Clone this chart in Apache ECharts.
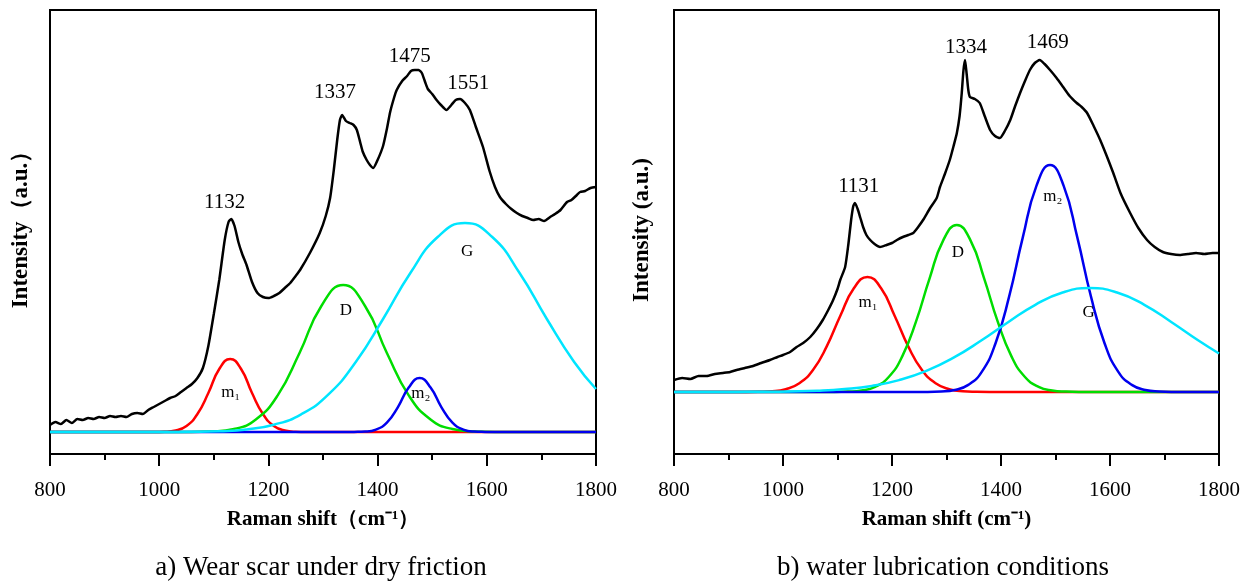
<!DOCTYPE html>
<html>
<head>
<meta charset="utf-8">
<script src="https://cdn.jsdelivr.net/npm/echarts@6/dist/echarts.min.js"></script>
<style>
  html, body { margin: 0; padding: 0; background: #fff; }
  #chart { width: 1253px; height: 584px; }
</style>
</head>
<body>
<div id="chart"></div>
<script>
  // panel a) dry friction, measured spectrum and fitted bands
  const dryMeasured = [
    [800, 29], [810, 32], [820, 30], [830, 34], [840, 31], [850, 35], [860, 34], [870, 36], [880, 35],
    [890, 37], [900, 36], [910, 38], [920, 37], [930, 38], [940, 37], [950, 40], [960, 41], [970, 40],
    [980, 44], [990, 47], [1000, 50], [1010, 53], [1020, 56], [1030, 58], [1040, 62], [1050, 66],
    [1060, 70], [1070, 76], [1080, 86], [1090, 108], [1100, 140], [1110, 174], [1120, 214], [1127, 232],
    [1132, 235], [1138, 228], [1145, 212], [1152, 200], [1160, 189], [1170, 172], [1180, 161], [1190, 157],
    [1200, 156], [1210, 158], [1220, 161], [1230, 166], [1240, 171], [1250, 178], [1258, 184], [1276, 201],
    [1294, 221], [1305, 238], [1313, 256], [1320, 285], [1326, 314], [1331, 334], [1335, 339], [1342, 333],
    [1349, 331], [1356, 329], [1362, 324], [1368, 312], [1373, 302], [1380, 294], [1386, 289], [1392, 286],
    [1400, 294], [1410, 308], [1417, 325], [1423, 342], [1430, 356], [1435, 364], [1445, 373], [1454, 378],
    [1461, 383], [1468, 384], [1475, 384], [1481, 381], [1487, 372], [1492, 365], [1500, 360], [1508, 354],
    [1516, 349], [1526, 344], [1535, 349], [1543, 354], [1551, 355], [1560, 351], [1569, 344], [1580, 327],
    [1593, 307], [1605, 283], [1615, 267], [1624, 257], [1635, 250], [1645, 245], [1655, 241], [1665, 238],
    [1675, 236], [1685, 234], [1695, 235], [1705, 233], [1716, 237], [1725, 240], [1735, 244], [1747, 252],
    [1755, 254], [1765, 259], [1771, 262], [1780, 263], [1790, 266], [1800, 267]
  ];
  const dryM1 = [
    [800, 22], [990, 22.1], [1010, 22.3], [1030, 23.5], [1050, 28], [1070, 40], [1090, 61], [1110, 85], [1130, 95],
    [1150, 85], [1170, 61], [1190, 40], [1210, 28], [1230, 23.5], [1250, 22.3], [1270, 22.1], [1800, 22]
  ];
  const dryD = [
    [800, 22], [1057, 22.1], [1097, 22.6], [1137, 25], [1177, 34.5], [1217, 58.6], [1257, 101], [1297, 148],
    [1337, 169], [1377, 148], [1417, 101], [1457, 58.6], [1497, 34.5], [1537, 25], [1577, 22.6],
    [1617, 22.1], [1800, 22]
  ];
  const dryM2 = [
    [800, 22], [1337, 22], [1357, 22.1], [1377, 22.4], [1397, 24.4], [1417, 31.3], [1437, 46.7], [1457, 66.4], [1477, 76],
    [1497, 66.4], [1517, 46.7], [1537, 31.3], [1557, 24.4], [1577, 22.4], [1597, 22.1], [1617, 22], [1800, 22]
  ];
  const dryG = [
    [800, 22], [1010, 22.05], [1060, 22.2], [1110, 22.8], [1160, 24.6], [1210, 29.3], [1260, 39.7], [1310, 59.6],
    [1360, 92], [1410, 135], [1460, 181], [1510, 217], [1560, 231], [1610, 217], [1660, 181], [1710, 135],
    [1760, 92], [1800, 65]
  ];

  // panel b) water lubrication
  const wetMeasured = [
    [800, 74], [815, 76], [830, 75], [845, 78], [860, 78], [875, 80], [890, 81], [903, 82], [915, 84],
    [930, 86], [945, 88], [960, 91], [976, 94], [990, 97], [1000, 99], [1013, 102], [1025, 107], [1037, 111],
    [1050, 117], [1062, 125], [1073, 134], [1083, 144], [1092, 154], [1100, 165], [1105, 174], [1114, 187],
    [1120, 210], [1125, 234], [1129, 248], [1132, 251], [1137, 245], [1142, 236], [1147, 227], [1153, 219],
    [1160, 214], [1168, 210], [1178, 207], [1190, 209], [1200, 211], [1209, 214], [1220, 217], [1230, 219],
    [1239, 221], [1248, 227], [1257, 234], [1270, 246], [1282, 256], [1288, 267], [1297, 280], [1306, 294],
    [1313, 308], [1319, 321], [1324, 338], [1328, 361], [1331, 383], [1334, 394], [1337, 380], [1340, 364],
    [1343, 357], [1352, 355], [1361, 351], [1370, 338], [1380, 324], [1389, 318], [1398, 316], [1407, 323],
    [1417, 334], [1426, 348], [1435, 361], [1444, 373], [1453, 384], [1462, 391], [1471, 394], [1480, 390],
    [1490, 384], [1502, 376], [1514, 367], [1526, 358], [1539, 351], [1548, 347], [1558, 341], [1570, 328],
    [1582, 314], [1594, 298], [1606, 281], [1620, 260], [1637, 241], [1652, 226], [1668, 214], [1682, 207],
    [1697, 202], [1712, 200], [1728, 199], [1743, 200], [1758, 201], [1773, 200], [1788, 201], [1800, 201]
  ];
  const wetM1 = [
    [800, 62], [930, 62.05], [955, 62.2], [980, 62.7], [1005, 64.8], [1030, 70.7], [1055, 84], [1080, 107.4], [1105, 138],
    [1130, 165.7], [1155, 177], [1180, 165.7], [1205, 138], [1230, 107.4], [1255, 84], [1280, 70.7],
    [1305, 64.8], [1330, 62.7], [1355, 62.2], [1380, 62.05], [1800, 62]
  ];
  const wetD = [
    [800, 62], [1094, 62.1], [1119, 62.4], [1144, 63.5], [1169, 67.2], [1194, 77], [1219, 97.9], [1244, 132.3],
    [1269, 175.7], [1294, 213.6], [1319, 229], [1344, 213.6], [1369, 175.7], [1394, 132.3], [1419, 97.9],
    [1444, 77], [1469, 67.2], [1494, 63.5], [1519, 62.4], [1544, 62.1], [1800, 62]
  ];
  const wetM2 = [
    [800, 62], [1265, 62.1], [1290, 62.5], [1315, 64], [1340, 69.1], [1365, 82.4], [1390, 110.8], [1415, 157.6],
    [1440, 216.6], [1465, 268.1], [1490, 289], [1515, 268.1], [1540, 216.6], [1565, 157.6], [1590, 110.8],
    [1615, 82.4], [1640, 69.1], [1665, 64], [1690, 62.5], [1715, 62.1], [1800, 62]
  ];
  const wetG = [
    [800, 62], [863, 62], [913, 62.1], [963, 62.2], [1013, 62.5], [1063, 63.2], [1113, 64.9], [1163, 68.1],
    [1213, 73.9], [1263, 83.1], [1313, 96.3], [1363, 113.2], [1413, 131.8], [1463, 149.2], [1513, 161.5],
    [1563, 166], [1613, 161.5], [1663, 149.2], [1713, 131.8], [1763, 113.2], [1800, 100.5]
  ];

  // annotation texts [x, y, text]
  const dryPeakLabels = [[1120, 252, '1132'], [1322, 362, '1337'], [1459, 398, '1475'], [1566, 371, '1551']];
  const dryBandLabels = [[1131, 61, 'm₁'], [1342, 143, 'D'], [1479, 60, 'm₂'], [1564, 202, 'G']];
  const wetPeakLabels = [[1139, 268, '1131'], [1336, 407, '1334'], [1486, 412, '1469']];
  const wetBandLabels = [[1156, 151, 'm₁'], [1321, 201, 'D'], [1495, 257, 'm₂'], [1561, 141, 'G']];

  const xTicks = { min: 800, max: 1800, interval: 200 };
  const serif = '"Liberation Serif", "Times New Roman", serif';

  const chart = echarts.init(document.getElementById('chart'));

  function xAxisFor(gridIndex, name) {
    return {
      type: 'value',
      gridIndex,
      min: xTicks.min,
      max: xTicks.max,
      interval: xTicks.interval,
      name,
      nameLocation: 'middle',
      nameGap: 55,
      nameTextStyle: { color: '#000', fontSize: 21, fontWeight: 'bold', fontFamily: serif },
      axisLine: { onZero: false, lineStyle: { color: '#000', width: 2 } },
      axisTick: { length: 12, lineStyle: { color: '#000', width: 2 } },
      minorTick: { show: true, splitNumber: 2, length: 6, lineStyle: { color: '#000', width: 2 } },
      splitLine: { show: false },
      axisLabel: { color: '#000', fontSize: 21, fontFamily: serif, margin: 26, formatter: (v) => String(v) },
    };
  }

  function yAxisFor(gridIndex, name, gap, shift) {
    return {
      type: 'value',
      gridIndex,
      min: 0,
      max: 444,
      name,
      nameLocation: 'middle',
      nameGap: gap,
      nameTextStyle: { color: '#000', fontSize: 23, fontWeight: 'bold', fontFamily: serif, padding: [0, 0, 0, shift] },
      axisLine: { show: true, onZero: false, lineStyle: { color: '#000', width: 2 } },
      axisTick: { show: false },
      axisLabel: { show: false },
      splitLine: { show: false },
    };
  }

  function curve(idx, data, color, smooth) {
    return {
      type: 'line',
      xAxisIndex: idx,
      yAxisIndex: idx,
      data,
      smooth,
      symbol: 'none',
      lineStyle: { color, width: 2.5 },
      silent: true,
    };
  }

  function labels(idx, data, size) {
    return {
      type: 'scatter',
      xAxisIndex: idx,
      yAxisIndex: idx,
      data,
      symbolSize: 1,
      itemStyle: { color: 'transparent', opacity: 1 },
      label: {
        show: true,
        position: 'inside',
        formatter: (p) => p.data[2],
        color: '#000',
        textBorderWidth: 0,
        textBorderColor: 'transparent',
        fontSize: size,
        fontFamily: serif,
      },
      z: 10,
    };
  }

  chart.setOption({
    animation: false,
    textStyle: { fontFamily: serif },
    title: [
      { text: 'a) Wear scar under dry friction', left: 316, top: 549, textAlign: 'center',
        textStyle: { color: '#000', fontSize: 27, fontWeight: 'normal', fontFamily: serif } },
      { text: 'b) water lubrication conditions', left: 938, top: 549, textAlign: 'center',
        textStyle: { color: '#000', fontSize: 27, fontWeight: 'normal', fontFamily: serif } },
    ],
    grid: [
      { left: 50, top: 10, width: 546, height: 444, show: true, borderColor: '#000', borderWidth: 2, backgroundColor: 'transparent' },
      { left: 674, top: 10, width: 545, height: 444, show: true, borderColor: '#000', borderWidth: 2, backgroundColor: 'transparent' },
    ],
    xAxis: [
      xAxisFor(0, 'Raman shift（cm⁻¹）'),
      xAxisFor(1, 'Raman shift (cm⁻¹)'),
    ],
    yAxis: [
      yAxisFor(0, 'Intensity（a.u.）', 17, 16),
      yAxisFor(1, 'Intensity (a.u.)', 20, 4),
    ],
    series: [
      curve(0, dryMeasured, '#000', 0.2),
      curve(0, dryM1, '#ff0000', 0.5),
      curve(0, dryD, '#00dd00', 0.5),
      curve(0, dryM2, '#0000ee', 0.5),
      curve(0, dryG, '#00e5ff', 0.5),
      labels(0, dryPeakLabels, 21),
      labels(0, dryBandLabels, 17),
      curve(1, wetMeasured, '#000', 0.2),
      curve(1, wetM1, '#ff0000', 0.5),
      curve(1, wetD, '#00dd00', 0.5),
      curve(1, wetM2, '#0000ee', 0.5),
      curve(1, wetG, '#00e5ff', 0.5),
      labels(1, wetPeakLabels, 21),
      labels(1, wetBandLabels, 17),
    ],
  });

  window.addEventListener('resize', () => chart.resize());
</script>
</body>
</html>
